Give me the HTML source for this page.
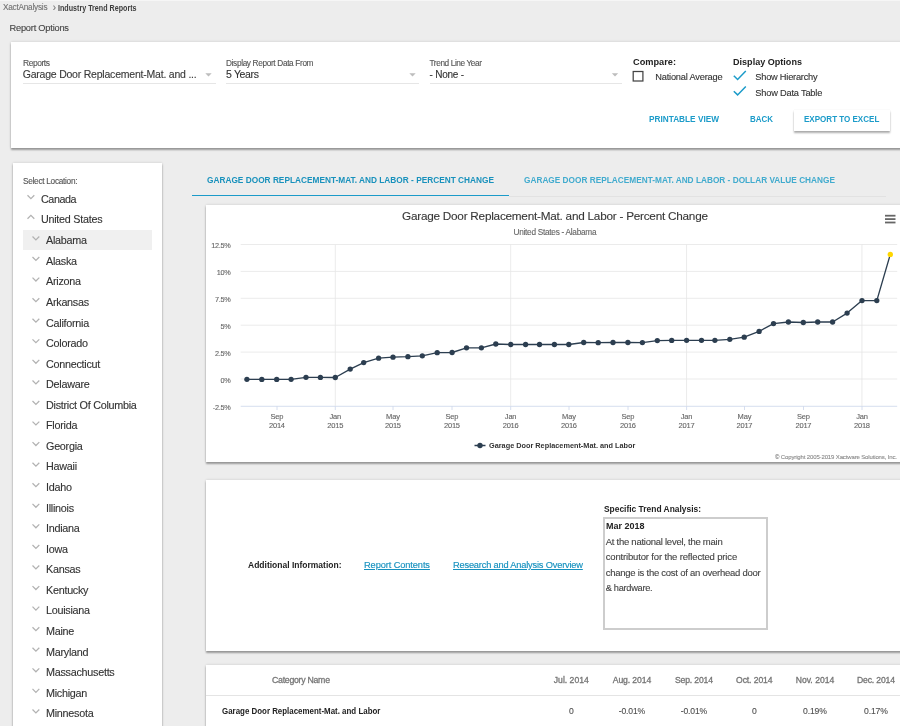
<!DOCTYPE html>
<html><head><meta charset="utf-8"><title>Industry Trend Reports</title>
<style>
html,body{margin:0;padding:0;}
body{width:900px;height:726px;overflow:hidden;background:#ededed;position:relative;font-family:"Liberation Sans", sans-serif;}
.abs{position:absolute;}
.t{position:absolute;white-space:nowrap;line-height:1;font-family:"Liberation Sans", sans-serif;}
.panel{position:absolute;background:#fff;box-shadow:0 1.6px 1.7px rgba(0,0,0,0.33),0 0 2.6px rgba(0,0,0,0.15);}
.ul{position:absolute;height:1.3px;background:#e6e6e6;}
</style></head><body>
<div class="abs" style="left:0;top:0;width:900px;height:1px;background:#f6f6f6"></div>
<div class="panel" style="left:11px;top:42px;width:900px;height:105.9px"></div>
<div class="panel" style="left:13px;top:163.4px;width:149px;height:600px"></div>
<div class="abs" style="left:23px;top:230.3px;width:128.8px;height:20.2px;background:#f0f0f0"></div>
<div class="panel" style="left:206px;top:205.3px;width:700px;height:256.5px"></div>
<div class="panel" style="left:206px;top:480px;width:700px;height:171px"></div>
<div class="panel" style="left:206px;top:665px;width:700px;height:100px"></div>
<div class="ul" style="left:23px;top:83px;width:192.5px"></div>
<div class="ul" style="left:226px;top:83px;width:193px"></div>
<div class="ul" style="left:429.5px;top:83px;width:192.5px"></div>
<div class="abs" style="left:793.6px;top:109.5px;width:96px;height:21.1px;background:#fff;box-shadow:0.3px 1.5px 1.8px rgba(0,0,0,0.32),0 0 1px rgba(0,0,0,0.10)"></div>
<div class="abs" style="left:192px;top:194.7px;width:317px;height:1.5px;background:#1b9bc9"></div>
<div class="abs" style="left:509px;top:195.8px;width:377px;height:1px;background:#e2e2e2"></div>
<div class="abs" style="left:603.4px;top:516.8px;width:160.4px;height:108.8px;border:2.2px solid #cdcdcd;background:#fff"></div>
<div class="abs" style="left:206px;top:695.4px;width:700px;height:1px;background:#e4e4e4"></div>
<svg class="abs" style="left:0;top:0" width="900" height="726" viewBox="0 0 900 726"><line x1="240.7" x2="897.2" y1="244.50" y2="244.50" stroke="#e6e6e6" stroke-width="0.8"/><line x1="240.7" x2="897.2" y1="271.40" y2="271.40" stroke="#e6e6e6" stroke-width="0.8"/><line x1="240.7" x2="897.2" y1="298.30" y2="298.30" stroke="#e6e6e6" stroke-width="0.8"/><line x1="240.7" x2="897.2" y1="325.20" y2="325.20" stroke="#e6e6e6" stroke-width="0.8"/><line x1="240.7" x2="897.2" y1="352.10" y2="352.10" stroke="#e6e6e6" stroke-width="0.8"/><line x1="240.7" x2="897.2" y1="379.00" y2="379.00" stroke="#e6e6e6" stroke-width="0.8"/><line x1="240.7" x2="897.2" y1="406.30" y2="406.30" stroke="#ccd6eb" stroke-width="0.8"/><line x1="335.31" x2="335.31" y1="244.6" y2="406" stroke="#e6e6e6" stroke-width="0.8"/><line x1="510.70" x2="510.70" y1="244.6" y2="406" stroke="#e6e6e6" stroke-width="0.8"/><line x1="686.56" x2="686.56" y1="244.6" y2="406" stroke="#e6e6e6" stroke-width="0.8"/><line x1="861.95" x2="861.95" y1="244.6" y2="406" stroke="#e6e6e6" stroke-width="0.8"/><line x1="277.00" x2="277.00" y1="406.3" y2="410" stroke="#ccd6eb" stroke-width="0.8"/><line x1="335.30" x2="335.30" y1="406.3" y2="410" stroke="#ccd6eb" stroke-width="0.8"/><line x1="393.00" x2="393.00" y1="406.3" y2="410" stroke="#ccd6eb" stroke-width="0.8"/><line x1="452.00" x2="452.00" y1="406.3" y2="410" stroke="#ccd6eb" stroke-width="0.8"/><line x1="510.70" x2="510.70" y1="406.3" y2="410" stroke="#ccd6eb" stroke-width="0.8"/><line x1="569.00" x2="569.00" y1="406.3" y2="410" stroke="#ccd6eb" stroke-width="0.8"/><line x1="628.00" x2="628.00" y1="406.3" y2="410" stroke="#ccd6eb" stroke-width="0.8"/><line x1="686.60" x2="686.60" y1="406.3" y2="410" stroke="#ccd6eb" stroke-width="0.8"/><line x1="744.50" x2="744.50" y1="406.3" y2="410" stroke="#ccd6eb" stroke-width="0.8"/><line x1="803.50" x2="803.50" y1="406.3" y2="410" stroke="#ccd6eb" stroke-width="0.8"/><line x1="862.00" x2="862.00" y1="406.3" y2="410" stroke="#ccd6eb" stroke-width="0.8"/><polyline fill="none" stroke="#2c3e50" stroke-width="1.35" stroke-linejoin="round" points="246.9,379.3 261.8,379.4 276.7,379.4 291.1,379.3 306.0,377.3 320.4,377.4 335.3,377.5 350.2,369.1 363.7,362.6 378.6,358.2 393.0,357.2 407.9,356.7 422.3,355.8 437.2,352.7 452.1,352.5 466.5,347.8 481.4,347.8 495.8,344.0 510.7,344.5 525.6,344.5 539.5,344.5 554.4,344.5 568.8,344.5 583.7,342.5 598.2,342.7 613.0,342.5 627.9,342.5 642.4,342.6 657.3,340.6 671.7,340.4 686.6,340.3 701.5,340.3 714.9,340.3 729.8,339.3 744.2,337.2 759.1,331.4 773.5,323.6 788.4,322.0 803.3,322.5 817.7,322.0 832.6,322.0 847.1,313.1 862.0,300.6 876.8,300.6 890.3,254.4"/><circle cx="246.9" cy="379.3" r="2.65" fill="#2c3e50"/><circle cx="261.8" cy="379.4" r="2.65" fill="#2c3e50"/><circle cx="276.7" cy="379.4" r="2.65" fill="#2c3e50"/><circle cx="291.1" cy="379.3" r="2.65" fill="#2c3e50"/><circle cx="306.0" cy="377.3" r="2.65" fill="#2c3e50"/><circle cx="320.4" cy="377.4" r="2.65" fill="#2c3e50"/><circle cx="335.3" cy="377.5" r="2.65" fill="#2c3e50"/><circle cx="350.2" cy="369.1" r="2.65" fill="#2c3e50"/><circle cx="363.7" cy="362.6" r="2.65" fill="#2c3e50"/><circle cx="378.6" cy="358.2" r="2.65" fill="#2c3e50"/><circle cx="393.0" cy="357.2" r="2.65" fill="#2c3e50"/><circle cx="407.9" cy="356.7" r="2.65" fill="#2c3e50"/><circle cx="422.3" cy="355.8" r="2.65" fill="#2c3e50"/><circle cx="437.2" cy="352.7" r="2.65" fill="#2c3e50"/><circle cx="452.1" cy="352.5" r="2.65" fill="#2c3e50"/><circle cx="466.5" cy="347.8" r="2.65" fill="#2c3e50"/><circle cx="481.4" cy="347.8" r="2.65" fill="#2c3e50"/><circle cx="495.8" cy="344.0" r="2.65" fill="#2c3e50"/><circle cx="510.7" cy="344.5" r="2.65" fill="#2c3e50"/><circle cx="525.6" cy="344.5" r="2.65" fill="#2c3e50"/><circle cx="539.5" cy="344.5" r="2.65" fill="#2c3e50"/><circle cx="554.4" cy="344.5" r="2.65" fill="#2c3e50"/><circle cx="568.8" cy="344.5" r="2.65" fill="#2c3e50"/><circle cx="583.7" cy="342.5" r="2.65" fill="#2c3e50"/><circle cx="598.2" cy="342.7" r="2.65" fill="#2c3e50"/><circle cx="613.0" cy="342.5" r="2.65" fill="#2c3e50"/><circle cx="627.9" cy="342.5" r="2.65" fill="#2c3e50"/><circle cx="642.4" cy="342.6" r="2.65" fill="#2c3e50"/><circle cx="657.3" cy="340.6" r="2.65" fill="#2c3e50"/><circle cx="671.7" cy="340.4" r="2.65" fill="#2c3e50"/><circle cx="686.6" cy="340.3" r="2.65" fill="#2c3e50"/><circle cx="701.5" cy="340.3" r="2.65" fill="#2c3e50"/><circle cx="714.9" cy="340.3" r="2.65" fill="#2c3e50"/><circle cx="729.8" cy="339.3" r="2.65" fill="#2c3e50"/><circle cx="744.2" cy="337.2" r="2.65" fill="#2c3e50"/><circle cx="759.1" cy="331.4" r="2.65" fill="#2c3e50"/><circle cx="773.5" cy="323.6" r="2.65" fill="#2c3e50"/><circle cx="788.4" cy="322.0" r="2.65" fill="#2c3e50"/><circle cx="803.3" cy="322.5" r="2.65" fill="#2c3e50"/><circle cx="817.7" cy="322.0" r="2.65" fill="#2c3e50"/><circle cx="832.6" cy="322.0" r="2.65" fill="#2c3e50"/><circle cx="847.1" cy="313.1" r="2.65" fill="#2c3e50"/><circle cx="862.0" cy="300.6" r="2.65" fill="#2c3e50"/><circle cx="876.8" cy="300.6" r="2.65" fill="#2c3e50"/><circle cx="890.3" cy="254.4" r="2.65" fill="#ffd600"/><line x1="474.5" x2="485.5" y1="445.5" y2="445.5" stroke="#2c3e50" stroke-width="1.5"/><circle cx="480" cy="445.5" r="2.7" fill="#2c3e50"/><line x1="885" x2="895.5" y1="215.7" y2="215.7" stroke="#666" stroke-width="1.8"/><line x1="885" x2="895.5" y1="219.1" y2="219.1" stroke="#666" stroke-width="1.8"/><line x1="885" x2="895.5" y1="222.5" y2="222.5" stroke="#666" stroke-width="1.8"/><path d="M205.3,73.2 L211.7,73.2 L208.5,76.4 Z" fill="#bdbdbd"/><path d="M409.3,73.2 L415.7,73.2 L412.5,76.4 Z" fill="#bdbdbd"/><path d="M611.8,73.2 L618.2,73.2 L615,76.4 Z" fill="#bdbdbd"/><rect x="633.2" y="71.5" width="9.7" height="9.5" fill="#fff" stroke="#444" stroke-width="1.25"/><polyline points="733.8,75.8 737.6,79.5 745.8,71.0" fill="none" stroke="#1b9bc9" stroke-width="1.5"/><polyline points="733.8,91.2 737.6,94.9 745.8,86.4" fill="none" stroke="#1b9bc9" stroke-width="1.5"/><polyline points="27.5,195.3 30.9,198.7 34.3,195.3" fill="none" stroke="#b2b2b2" stroke-width="1.25"/><polyline points="27.5,218.7 30.9,215.3 34.3,218.7" fill="none" stroke="#b2b2b2" stroke-width="1.25"/><polyline points="32.5,236.5 35.9,239.89999999999998 39.3,236.5" fill="none" stroke="#b2b2b2" stroke-width="1.25"/><polyline points="32.5,257.065 35.9,260.465 39.3,257.065" fill="none" stroke="#b2b2b2" stroke-width="1.25"/><polyline points="32.5,277.63 35.9,281.03 39.3,277.63" fill="none" stroke="#b2b2b2" stroke-width="1.25"/><polyline points="32.5,298.195 35.9,301.59499999999997 39.3,298.195" fill="none" stroke="#b2b2b2" stroke-width="1.25"/><polyline points="32.5,318.76 35.9,322.15999999999997 39.3,318.76" fill="none" stroke="#b2b2b2" stroke-width="1.25"/><polyline points="32.5,339.325 35.9,342.72499999999997 39.3,339.325" fill="none" stroke="#b2b2b2" stroke-width="1.25"/><polyline points="32.5,359.89000000000004 35.9,363.29 39.3,359.89000000000004" fill="none" stroke="#b2b2b2" stroke-width="1.25"/><polyline points="32.5,380.455 35.9,383.85499999999996 39.3,380.455" fill="none" stroke="#b2b2b2" stroke-width="1.25"/><polyline points="32.5,401.02000000000004 35.9,404.42 39.3,401.02000000000004" fill="none" stroke="#b2b2b2" stroke-width="1.25"/><polyline points="32.5,421.585 35.9,424.98499999999996 39.3,421.585" fill="none" stroke="#b2b2b2" stroke-width="1.25"/><polyline points="32.5,442.15000000000003 35.9,445.55 39.3,442.15000000000003" fill="none" stroke="#b2b2b2" stroke-width="1.25"/><polyline points="32.5,462.715 35.9,466.11499999999995 39.3,462.715" fill="none" stroke="#b2b2b2" stroke-width="1.25"/><polyline points="32.5,483.28000000000003 35.9,486.68 39.3,483.28000000000003" fill="none" stroke="#b2b2b2" stroke-width="1.25"/><polyline points="32.5,503.845 35.9,507.245 39.3,503.845" fill="none" stroke="#b2b2b2" stroke-width="1.25"/><polyline points="32.5,524.41 35.9,527.8100000000001 39.3,524.41" fill="none" stroke="#b2b2b2" stroke-width="1.25"/><polyline points="32.5,544.9749999999999 35.9,548.375 39.3,544.9749999999999" fill="none" stroke="#b2b2b2" stroke-width="1.25"/><polyline points="32.5,565.54 35.9,568.94 39.3,565.54" fill="none" stroke="#b2b2b2" stroke-width="1.25"/><polyline points="32.5,586.105 35.9,589.5050000000001 39.3,586.105" fill="none" stroke="#b2b2b2" stroke-width="1.25"/><polyline points="32.5,606.67 35.9,610.07 39.3,606.67" fill="none" stroke="#b2b2b2" stroke-width="1.25"/><polyline points="32.5,627.2349999999999 35.9,630.635 39.3,627.2349999999999" fill="none" stroke="#b2b2b2" stroke-width="1.25"/><polyline points="32.5,647.8 35.9,651.2 39.3,647.8" fill="none" stroke="#b2b2b2" stroke-width="1.25"/><polyline points="32.5,668.365 35.9,671.7650000000001 39.3,668.365" fill="none" stroke="#b2b2b2" stroke-width="1.25"/><polyline points="32.5,688.93 35.9,692.33 39.3,688.93" fill="none" stroke="#b2b2b2" stroke-width="1.25"/><polyline points="32.5,709.4949999999999 35.9,712.895 39.3,709.4949999999999" fill="none" stroke="#b2b2b2" stroke-width="1.25"/></svg>
<div class="abs" style="left:0;top:0;width:900px;height:726px;will-change:transform">
<span class="t" style="left:3.00px;top:4.000px;font-size:8.25px;color:#727272;letter-spacing:-0.248px;-webkit-text-stroke:0.1px #727272;">XactAnalysis</span><span class="t" style="left:52.70px;top:3.000px;font-size:10px;color:#777;-webkit-text-stroke:0.12px #777;">›</span><span class="t" style="left:58.00px;top:5.000px;font-size:8.25px;color:#3c3c3c;font-weight:700;transform:scaleX(0.8649);transform-origin:0 0;">Industry Trend Reports</span><span class="t" style="left:9.50px;top:24.000px;font-size:9.25px;color:#444;letter-spacing:-0.209px;-webkit-text-stroke:0.12px #444;">Report Options</span><span class="t" style="left:23.00px;top:59.000px;font-size:8.5px;color:#555;letter-spacing:-0.461px;-webkit-text-stroke:0.12px #555;">Reports</span><span class="t" style="left:22.70px;top:69.000px;font-size:10.5px;color:#3a3a3a;letter-spacing:-0.214px;-webkit-text-stroke:0.12px #3a3a3a;">Garage Door Replacement-Mat. and ...</span><span class="t" style="left:226.00px;top:60.000px;font-size:8.25px;color:#555;letter-spacing:-0.342px;-webkit-text-stroke:0.12px #555;">Display Report Data From</span><span class="t" style="left:226.00px;top:69.000px;font-size:10.5px;color:#333;letter-spacing:-0.339px;-webkit-text-stroke:0.12px #333;">5 Years</span><span class="t" style="left:429.50px;top:60.000px;font-size:8.25px;color:#555;letter-spacing:-0.389px;-webkit-text-stroke:0.12px #555;">Trend Line Year</span><span class="t" style="left:429.50px;top:70.000px;font-size:10.0px;color:#333;letter-spacing:-0.232px;-webkit-text-stroke:0.12px #333;">- None -</span><span class="t" style="left:632.50px;top:57.000px;font-size:9.6px;color:#222;font-weight:700;transform:scaleX(0.9597);transform-origin:0 0;">Compare:</span><span class="t" style="left:655.20px;top:73.000px;font-size:9.25px;color:#333;letter-spacing:-0.186px;-webkit-text-stroke:0.12px #333;">National Average</span><span class="t" style="left:733.00px;top:57.000px;font-size:9.6px;color:#222;font-weight:700;transform:scaleX(0.9442);transform-origin:0 0;">Display Options</span><span class="t" style="left:755.30px;top:73.000px;font-size:9.25px;color:#333;letter-spacing:-0.230px;-webkit-text-stroke:0.12px #333;">Show Hierarchy</span><span class="t" style="left:755.30px;top:89.000px;font-size:9.25px;color:#333;letter-spacing:-0.197px;-webkit-text-stroke:0.12px #333;">Show Data Table</span><span class="t" style="left:649.00px;top:115.000px;font-size:9px;color:#1b9bc9;font-weight:700;transform:scaleX(0.9170);transform-origin:0 0;">PRINTABLE VIEW</span><span class="t" style="left:750.00px;top:115.000px;font-size:9px;color:#1b9bc9;font-weight:700;transform:scaleX(0.8847);transform-origin:0 0;">BACK</span><span class="t" style="left:804.20px;top:115.000px;font-size:9px;color:#1b9bc9;font-weight:700;transform:scaleX(0.8927);transform-origin:0 0;">EXPORT TO EXCEL</span><span class="t" style="left:23.00px;top:178.000px;font-size:8.25px;color:#555;letter-spacing:-0.280px;-webkit-text-stroke:0.12px #555;">Select Location:</span><span class="t" style="left:41.00px;top:194.000px;font-size:10.75px;color:#333;letter-spacing:-0.431px;-webkit-text-stroke:0.12px #333;">Canada</span><span class="t" style="left:41.00px;top:214.000px;font-size:10.75px;color:#333;letter-spacing:-0.253px;-webkit-text-stroke:0.12px #333;">United States</span><span class="t" style="left:46.00px;top:235.000px;font-size:10.8px;color:#333;letter-spacing:-0.270px;-webkit-text-stroke:0.12px #333;">Alabama</span><span class="t" style="left:46.00px;top:256.000px;font-size:10.8px;color:#333;letter-spacing:-0.270px;-webkit-text-stroke:0.12px #333;">Alaska</span><span class="t" style="left:46.00px;top:276.000px;font-size:10.8px;color:#333;letter-spacing:-0.270px;-webkit-text-stroke:0.12px #333;">Arizona</span><span class="t" style="left:46.00px;top:297.000px;font-size:10.8px;color:#333;letter-spacing:-0.270px;-webkit-text-stroke:0.12px #333;">Arkansas</span><span class="t" style="left:46.00px;top:318.000px;font-size:10.8px;color:#333;letter-spacing:-0.270px;-webkit-text-stroke:0.12px #333;">California</span><span class="t" style="left:46.00px;top:338.000px;font-size:10.8px;color:#333;letter-spacing:-0.270px;-webkit-text-stroke:0.12px #333;">Colorado</span><span class="t" style="left:46.00px;top:359.000px;font-size:10.8px;color:#333;letter-spacing:-0.270px;-webkit-text-stroke:0.12px #333;">Connecticut</span><span class="t" style="left:46.00px;top:379.000px;font-size:10.8px;color:#333;letter-spacing:-0.270px;-webkit-text-stroke:0.12px #333;">Delaware</span><span class="t" style="left:46.00px;top:400.000px;font-size:10.8px;color:#333;letter-spacing:-0.270px;-webkit-text-stroke:0.12px #333;">District Of Columbia</span><span class="t" style="left:46.00px;top:420.000px;font-size:10.8px;color:#333;letter-spacing:-0.270px;-webkit-text-stroke:0.12px #333;">Florida</span><span class="t" style="left:46.00px;top:441.000px;font-size:10.8px;color:#333;letter-spacing:-0.270px;-webkit-text-stroke:0.12px #333;">Georgia</span><span class="t" style="left:46.00px;top:461.000px;font-size:10.8px;color:#333;letter-spacing:-0.270px;-webkit-text-stroke:0.12px #333;">Hawaii</span><span class="t" style="left:46.00px;top:482.000px;font-size:10.8px;color:#333;letter-spacing:-0.270px;-webkit-text-stroke:0.12px #333;">Idaho</span><span class="t" style="left:46.00px;top:503.000px;font-size:10.8px;color:#333;letter-spacing:-0.270px;-webkit-text-stroke:0.12px #333;">Illinois</span><span class="t" style="left:46.00px;top:523.000px;font-size:10.8px;color:#333;letter-spacing:-0.270px;-webkit-text-stroke:0.12px #333;">Indiana</span><span class="t" style="left:46.00px;top:544.000px;font-size:10.8px;color:#333;letter-spacing:-0.270px;-webkit-text-stroke:0.12px #333;">Iowa</span><span class="t" style="left:46.00px;top:564.000px;font-size:10.8px;color:#333;letter-spacing:-0.270px;-webkit-text-stroke:0.12px #333;">Kansas</span><span class="t" style="left:46.00px;top:585.000px;font-size:10.8px;color:#333;letter-spacing:-0.270px;-webkit-text-stroke:0.12px #333;">Kentucky</span><span class="t" style="left:46.00px;top:605.000px;font-size:10.8px;color:#333;letter-spacing:-0.270px;-webkit-text-stroke:0.12px #333;">Louisiana</span><span class="t" style="left:46.00px;top:626.000px;font-size:10.8px;color:#333;letter-spacing:-0.270px;-webkit-text-stroke:0.12px #333;">Maine</span><span class="t" style="left:46.00px;top:647.000px;font-size:10.8px;color:#333;letter-spacing:-0.270px;-webkit-text-stroke:0.12px #333;">Maryland</span><span class="t" style="left:46.00px;top:667.000px;font-size:10.8px;color:#333;letter-spacing:-0.270px;-webkit-text-stroke:0.12px #333;">Massachusetts</span><span class="t" style="left:46.00px;top:688.000px;font-size:10.8px;color:#333;letter-spacing:-0.270px;-webkit-text-stroke:0.12px #333;">Michigan</span><span class="t" style="left:46.00px;top:708.000px;font-size:10.8px;color:#333;letter-spacing:-0.270px;-webkit-text-stroke:0.12px #333;">Minnesota</span><span class="t" style="left:207.00px;top:176.000px;font-size:9px;color:#1891bc;font-weight:700;transform:scaleX(0.9213);transform-origin:0 0;">GARAGE DOOR REPLACEMENT-MAT. AND LABOR - PERCENT CHANGE</span><span class="t" style="left:524.30px;top:176.000px;font-size:9px;color:#41abce;font-weight:700;transform:scaleX(0.9192);transform-origin:0 0;">GARAGE DOOR REPLACEMENT-MAT. AND LABOR - DOLLAR VALUE CHANGE</span><span class="t" style="left:402.00px;top:210.000px;font-size:11.75px;color:#383838;letter-spacing:-0.236px;-webkit-text-stroke:0.12px #383838;">Garage Door Replacement-Mat. and Labor - Percent Change</span><span class="t" style="left:513.50px;top:229.000px;font-size:8.25px;color:#666;letter-spacing:-0.271px;-webkit-text-stroke:0.12px #666;">United States - Alabama</span><span class="t" style="left:211.20px;top:242.000px;font-size:7.3px;color:#666;letter-spacing:-0.300px;-webkit-text-stroke:0.12px #666;">12.5%</span><span class="t" style="left:216.69px;top:269.000px;font-size:7.3px;color:#666;letter-spacing:-0.300px;-webkit-text-stroke:0.12px #666;">10%</span><span class="t" style="left:214.96px;top:296.000px;font-size:7.3px;color:#666;letter-spacing:-0.300px;-webkit-text-stroke:0.12px #666;">7.5%</span><span class="t" style="left:220.45px;top:323.000px;font-size:7.3px;color:#666;letter-spacing:-0.300px;-webkit-text-stroke:0.12px #666;">5%</span><span class="t" style="left:214.96px;top:350.000px;font-size:7.3px;color:#666;letter-spacing:-0.300px;-webkit-text-stroke:0.12px #666;">2.5%</span><span class="t" style="left:220.45px;top:377.000px;font-size:7.3px;color:#666;letter-spacing:-0.300px;-webkit-text-stroke:0.12px #666;">0%</span><span class="t" style="left:212.83px;top:404.000px;font-size:7.3px;color:#666;letter-spacing:-0.300px;-webkit-text-stroke:0.12px #666;">-2.5%</span><span class="t" style="left:270.53px;top:413.000px;font-size:7.5px;color:#666;letter-spacing:-0.200px;-webkit-text-stroke:0.12px #666;">Sep</span><span class="t" style="left:268.99px;top:422.000px;font-size:7.5px;color:#666;letter-spacing:-0.220px;-webkit-text-stroke:0.12px #666;">2014</span><span class="t" style="left:329.45px;top:413.000px;font-size:7.5px;color:#666;letter-spacing:-0.200px;-webkit-text-stroke:0.12px #666;">Jan</span><span class="t" style="left:327.29px;top:422.000px;font-size:7.5px;color:#666;letter-spacing:-0.220px;-webkit-text-stroke:0.12px #666;">2015</span><span class="t" style="left:386.12px;top:413.000px;font-size:7.5px;color:#666;letter-spacing:-0.200px;-webkit-text-stroke:0.12px #666;">May</span><span class="t" style="left:384.99px;top:422.000px;font-size:7.5px;color:#666;letter-spacing:-0.220px;-webkit-text-stroke:0.12px #666;">2015</span><span class="t" style="left:445.53px;top:413.000px;font-size:7.5px;color:#666;letter-spacing:-0.200px;-webkit-text-stroke:0.12px #666;">Sep</span><span class="t" style="left:443.99px;top:422.000px;font-size:7.5px;color:#666;letter-spacing:-0.220px;-webkit-text-stroke:0.12px #666;">2015</span><span class="t" style="left:504.85px;top:413.000px;font-size:7.5px;color:#666;letter-spacing:-0.200px;-webkit-text-stroke:0.12px #666;">Jan</span><span class="t" style="left:502.69px;top:422.000px;font-size:7.5px;color:#666;letter-spacing:-0.220px;-webkit-text-stroke:0.12px #666;">2016</span><span class="t" style="left:562.12px;top:413.000px;font-size:7.5px;color:#666;letter-spacing:-0.200px;-webkit-text-stroke:0.12px #666;">May</span><span class="t" style="left:560.99px;top:422.000px;font-size:7.5px;color:#666;letter-spacing:-0.220px;-webkit-text-stroke:0.12px #666;">2016</span><span class="t" style="left:621.53px;top:413.000px;font-size:7.5px;color:#666;letter-spacing:-0.200px;-webkit-text-stroke:0.12px #666;">Sep</span><span class="t" style="left:619.99px;top:422.000px;font-size:7.5px;color:#666;letter-spacing:-0.220px;-webkit-text-stroke:0.12px #666;">2016</span><span class="t" style="left:680.75px;top:413.000px;font-size:7.5px;color:#666;letter-spacing:-0.200px;-webkit-text-stroke:0.12px #666;">Jan</span><span class="t" style="left:678.59px;top:422.000px;font-size:7.5px;color:#666;letter-spacing:-0.220px;-webkit-text-stroke:0.12px #666;">2017</span><span class="t" style="left:737.62px;top:413.000px;font-size:7.5px;color:#666;letter-spacing:-0.200px;-webkit-text-stroke:0.12px #666;">May</span><span class="t" style="left:736.49px;top:422.000px;font-size:7.5px;color:#666;letter-spacing:-0.220px;-webkit-text-stroke:0.12px #666;">2017</span><span class="t" style="left:797.03px;top:413.000px;font-size:7.5px;color:#666;letter-spacing:-0.200px;-webkit-text-stroke:0.12px #666;">Sep</span><span class="t" style="left:795.49px;top:422.000px;font-size:7.5px;color:#666;letter-spacing:-0.220px;-webkit-text-stroke:0.12px #666;">2017</span><span class="t" style="left:856.15px;top:413.000px;font-size:7.5px;color:#666;letter-spacing:-0.200px;-webkit-text-stroke:0.12px #666;">Jan</span><span class="t" style="left:853.99px;top:422.000px;font-size:7.5px;color:#666;letter-spacing:-0.220px;-webkit-text-stroke:0.12px #666;">2018</span><span class="t" style="left:488.50px;top:442.000px;font-size:7.9px;color:#333;font-weight:700;transform:scaleX(0.9270);transform-origin:0 0;">Garage Door Replacement-Mat. and Labor</span><span class="t" style="left:775.00px;top:454.000px;font-size:6.0px;color:#8c8c8c;letter-spacing:-0.137px;-webkit-text-stroke:0.12px #8c8c8c;">© Copyright 2005-2019 Xactware Solutions, Inc.</span><span class="t" style="left:247.70px;top:561.000px;font-size:9px;color:#222;font-weight:700;transform:scaleX(0.9446);transform-origin:0 0;">Additional Information:</span><span class="t" style="left:364.00px;top:561.000px;font-size:9.25px;color:#1590be;letter-spacing:-0.097px;text-decoration:underline;-webkit-text-stroke:0.15px #1590be;">Report Contents</span><span class="t" style="left:453.00px;top:561.000px;font-size:9.25px;color:#1590be;letter-spacing:-0.180px;text-decoration:underline;-webkit-text-stroke:0.15px #1590be;">Research and Analysis Overview</span><span class="t" style="left:604.00px;top:505.000px;font-size:9px;color:#222;font-weight:700;transform:scaleX(0.9354);transform-origin:0 0;">Specific Trend Analysis:</span><span class="t" style="left:605.70px;top:522.000px;font-size:9px;color:#222;font-weight:700;transform:scaleX(0.9993);transform-origin:0 0;">Mar 2018</span><span class="t" style="left:605.70px;top:537.000px;font-size:9.5px;color:#444;letter-spacing:-0.254px;-webkit-text-stroke:0.12px #444;">At the national level, the main</span><span class="t" style="left:605.70px;top:552.000px;font-size:9.5px;color:#444;letter-spacing:-0.155px;-webkit-text-stroke:0.12px #444;">contributor for the reflected price</span><span class="t" style="left:605.70px;top:568.000px;font-size:9.5px;color:#444;letter-spacing:-0.250px;-webkit-text-stroke:0.12px #444;">change is the cost of an overhead door</span><span class="t" style="left:605.70px;top:584.000px;font-size:9.25px;color:#444;letter-spacing:-0.287px;-webkit-text-stroke:0.12px #444;">&amp; hardware.</span><span class="t" style="left:272.00px;top:676.000px;font-size:8.75px;color:#777;letter-spacing:-0.273px;-webkit-text-stroke:0.3px #777;">Category Name</span><span class="t" style="left:553.80px;top:676.000px;font-size:8.6px;color:#757575;letter-spacing:0.012px;-webkit-text-stroke:0.3px #757575;">Jul. 2014</span><span class="t" style="left:568.91px;top:707.000px;font-size:8.6px;color:#505050;letter-spacing:-0.150px;-webkit-text-stroke:0.12px #505050;">0</span><span class="t" style="left:612.75px;top:676.000px;font-size:8.6px;color:#757575;letter-spacing:-0.089px;-webkit-text-stroke:0.3px #757575;">Aug. 2014</span><span class="t" style="left:618.75px;top:707.000px;font-size:8.6px;color:#505050;letter-spacing:-0.150px;-webkit-text-stroke:0.12px #505050;">-0.01%</span><span class="t" style="left:675.00px;top:676.000px;font-size:8.6px;color:#757575;letter-spacing:-0.152px;-webkit-text-stroke:0.3px #757575;">Sep. 2014</span><span class="t" style="left:680.75px;top:707.000px;font-size:8.6px;color:#505050;letter-spacing:-0.150px;-webkit-text-stroke:0.12px #505050;">-0.01%</span><span class="t" style="left:736.05px;top:676.000px;font-size:8.6px;color:#757575;letter-spacing:-0.099px;-webkit-text-stroke:0.3px #757575;">Oct. 2014</span><span class="t" style="left:751.91px;top:707.000px;font-size:8.6px;color:#505050;letter-spacing:-0.150px;-webkit-text-stroke:0.12px #505050;">0</span><span class="t" style="left:795.75px;top:676.000px;font-size:8.6px;color:#757575;letter-spacing:-0.008px;-webkit-text-stroke:0.3px #757575;">Nov. 2014</span><span class="t" style="left:803.11px;top:707.000px;font-size:8.6px;color:#505050;letter-spacing:-0.150px;-webkit-text-stroke:0.12px #505050;">0.19%</span><span class="t" style="left:857.00px;top:676.000px;font-size:8.6px;color:#757575;letter-spacing:-0.150px;-webkit-text-stroke:0.3px #757575;">Dec. 2014</span><span class="t" style="left:864.11px;top:707.000px;font-size:8.6px;color:#505050;letter-spacing:-0.150px;-webkit-text-stroke:0.12px #505050;">0.17%</span><span class="t" style="left:222.00px;top:707.000px;font-size:8.6px;color:#222;font-weight:700;transform:scaleX(0.9213);transform-origin:0 0;">Garage Door Replacement-Mat. and Labor</span>
</div>
</body></html>
